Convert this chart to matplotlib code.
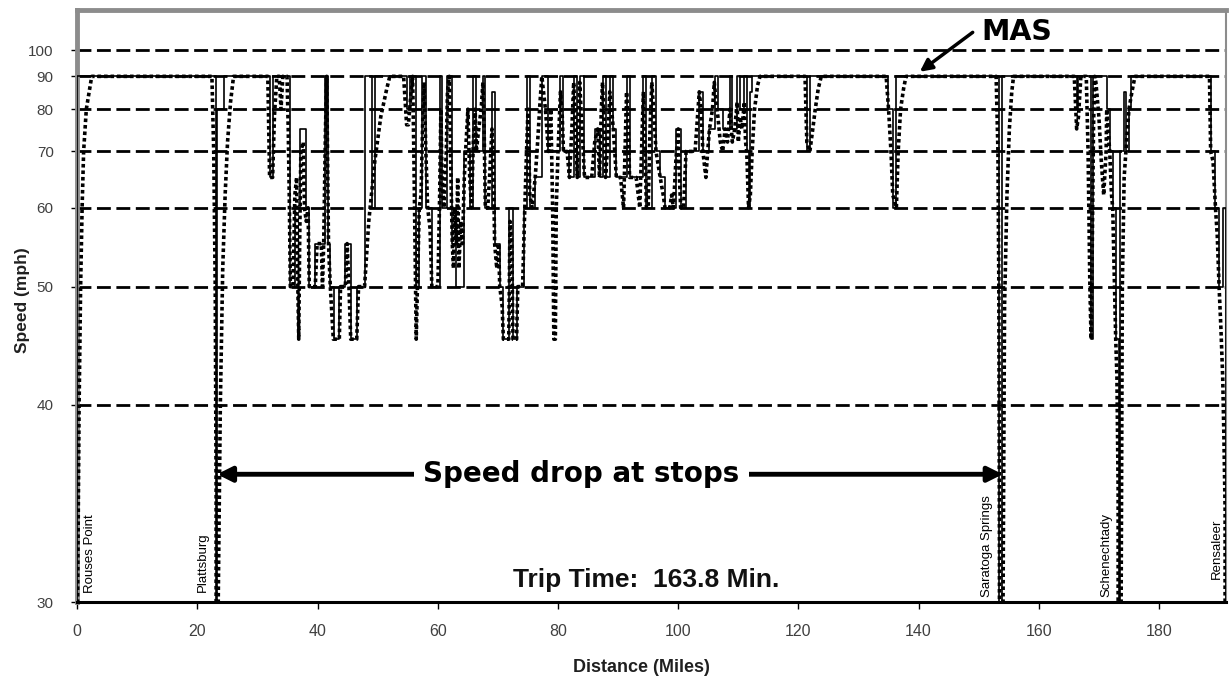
import matplotlib
matplotlib.use('Agg')
import matplotlib.pyplot as plt
import numpy as np

plt.rcParams['font.family'] = ['Liberation Sans', 'DejaVu Sans']

# solid trace: speed (mph) holding from each milepost until the next one
mas_miles = [0.00, 0.02, 23.15, 23.30, 24.40, 32.00, 32.55, 35.40, 36.20, 37.05,
             38.00, 38.60, 39.60, 41.20, 41.80, 42.10, 42.70, 43.60, 44.60, 45.50,
             46.50, 47.80, 49.00, 49.60, 54.90, 55.30, 56.30, 56.80, 57.40, 58.00,
             59.00, 60.30, 60.70, 61.60, 62.40, 63.00, 64.40, 65.30, 65.90, 66.40,
             67.50, 67.90, 69.00, 69.45, 70.30, 70.90, 71.90, 72.50, 73.10, 74.40,
             74.90, 75.30, 76.20, 77.30, 78.40, 80.40, 80.90, 81.90, 82.60, 83.20,
             83.60, 84.40, 86.10, 86.90, 87.40, 87.90, 88.60, 89.20, 89.70, 91.40,
             91.90, 94.20, 94.70, 95.60, 96.30, 97.00, 97.80, 99.60, 100.40, 101.30,
             103.50, 104.10, 105.20, 106.20, 106.60, 107.40, 108.60, 109.00, 109.80, 110.30,
             111.00, 111.40, 111.70, 112.00, 112.30, 121.40, 121.90, 134.90, 135.70, 136.30,
             153.45, 153.90, 166.30, 166.60, 168.75, 169.00, 171.30, 171.80, 172.30, 172.80,
             173.35, 173.55, 174.20, 174.50, 175.00, 175.40, 188.60, 189.40, 190.00, 190.70,
             191.10, 191.20]
mas_speed = [0, 90, 0, 80, 90, 65, 90, 50, 60, 75,
             60, 50, 55, 90, 55, 50, 45, 50, 55, 45,
             50, 90, 60, 90, 80, 90, 50, 60, 90, 60,
             50, 90, 60, 90, 55, 50, 70, 60, 90, 70,
             90, 60, 85, 55, 50, 45, 60, 45, 50, 60,
             90, 60, 65, 90, 70, 90, 70, 65, 90, 65,
             90, 65, 75, 65, 90, 65, 90, 75, 65, 90,
             65, 90, 60, 90, 70, 65, 60, 75, 60, 70,
             85, 70, 75, 90, 80, 75, 90, 75, 90, 80,
             90, 70, 60, 85, 90, 70, 90, 80, 60, 90,
             0, 90, 80, 90, 45, 90, 80, 70, 60, 45,
             0, 70, 85, 70, 80, 90, 70, 60, 50, 60,
             0, 0]

# dotted trace: simulated train speed
run_miles = [0.00, 0.05, 0.30, 0.55, 0.80, 1.05, 1.50, 2.40, 22.40, 22.70,
             22.95, 23.10, 23.20, 23.35, 23.45, 23.80, 24.20, 24.60, 25.00, 25.50,
             26.00, 31.70, 32.00, 32.50, 32.80, 33.20, 33.60, 33.90, 34.20, 34.90,
             35.10, 35.30, 35.45, 35.90, 36.20, 36.50, 36.70, 36.85, 37.00, 37.20,
             37.60, 37.80, 38.10, 38.40, 38.60, 39.60, 39.90, 40.60, 40.80, 41.00,
             41.30, 41.50, 41.60, 41.80, 42.10, 42.60, 43.60, 43.80, 44.60, 44.90,
             45.20, 45.50, 46.50, 46.80, 47.80, 48.50, 49.50, 50.50, 51.50, 52.00,
             54.30, 54.80, 55.10, 55.50, 55.80, 56.00, 56.20, 56.40, 56.60, 56.90,
             57.20, 57.50, 57.70, 58.00, 58.30, 58.70, 59.00, 60.00, 60.30, 60.50,
             60.70, 61.00, 61.40, 61.60, 61.90, 62.10, 62.40, 62.60, 62.80, 63.10,
             63.30, 63.50, 63.80, 64.10, 64.40, 64.70, 65.00, 65.30, 65.60, 65.90,
             66.20, 66.40, 66.80, 67.20, 67.50, 67.70, 67.90, 68.30, 68.60, 69.00,
             69.20, 69.45, 69.80, 70.10, 70.30, 70.70, 70.90, 71.80, 72.00, 72.30,
             72.50, 73.10, 73.30, 74.10, 74.40, 74.70, 75.00, 75.30, 75.70, 76.20,
             76.60, 77.00, 77.30, 77.90, 78.40, 78.80, 79.10, 79.30, 79.55, 79.70,
             80.00, 80.40, 80.70, 80.90, 81.50, 81.90, 82.30, 82.60, 82.90, 83.20,
             83.40, 83.60, 84.00, 84.40, 85.60, 86.10, 86.60, 86.90, 87.20, 87.40,
             87.70, 87.90, 88.30, 88.60, 88.90, 89.20, 89.70, 90.40, 90.90, 91.10,
             91.40, 91.70, 91.90, 93.00, 93.60, 93.90, 94.20, 94.50, 94.70, 95.00,
             95.30, 95.60, 95.90, 96.30, 97.00, 97.50, 97.80, 98.60, 98.90, 99.20,
             99.60, 100.00, 100.20, 100.40, 100.90, 101.10, 101.30, 102.80, 103.20, 103.50,
             103.80, 104.10, 104.60, 104.90, 105.20, 105.70, 106.00, 106.30, 106.60, 107.00,
             107.40, 107.80, 108.20, 108.60, 109.00, 109.40, 109.80, 110.00, 110.30, 110.60,
             111.00, 111.20, 111.40, 111.70, 112.00, 112.30, 112.70, 113.20, 113.60, 121.10,
             121.40, 121.90, 122.30, 122.80, 123.30, 123.80, 134.60, 135.00, 135.40, 135.70,
             136.30, 136.60, 137.00, 137.50, 137.90, 152.90, 153.20, 153.35, 153.45, 153.55,
             153.95, 154.05, 154.30, 154.70, 155.10, 155.50, 155.80, 165.90, 166.30, 166.60,
             167.00, 167.90, 168.20, 168.50, 168.70, 168.90, 169.10, 169.30, 169.50, 170.00,
             170.40, 170.80, 171.20, 171.30, 171.80, 172.10, 172.30, 172.60, 172.80, 173.00,
             173.20, 173.35, 173.60, 173.70, 173.90, 174.20, 174.60, 175.00, 175.50, 176.00,
             188.40, 188.60, 189.00, 189.40, 189.70, 190.00, 190.30, 190.60, 190.80, 191.00,
             191.10]
run_speed = [0, 30, 40, 50, 60, 70, 80, 90, 90, 70,
             50, 35, 0, 0, 30, 40, 52, 62, 72, 82,
             90, 90, 65, 65, 78, 90, 90, 80, 90, 90,
             75, 60, 50, 50, 62, 65, 50, 45, 55, 70,
             72, 60, 58, 60, 50, 50, 55, 55, 50, 55,
             75, 90, 75, 55, 50, 45, 45, 50, 50, 55,
             50, 45, 45, 50, 50, 58, 68, 78, 86, 90,
             90, 76, 76, 84, 90, 70, 55, 45, 50, 60,
             62, 78, 88, 70, 60, 57, 50, 50, 62, 80,
             65, 60, 70, 85, 90, 70, 55, 52, 60, 55,
             65, 52, 58, 55, 65, 72, 80, 65, 60, 72,
             80, 70, 75, 80, 88, 75, 60, 60, 65, 75,
             70, 55, 52, 55, 50, 48, 45, 45, 58, 55,
             45, 45, 50, 50, 58, 68, 80, 62, 60, 65,
             72, 82, 90, 80, 70, 80, 60, 45, 45, 60,
             70, 85, 78, 70, 70, 65, 75, 88, 75, 65,
             78, 88, 75, 65, 65, 72, 75, 65, 80, 88,
             75, 65, 72, 85, 80, 75, 65, 65, 60, 68,
             85, 75, 65, 65, 60, 70, 85, 70, 60, 60,
             75, 88, 80, 70, 65, 62, 60, 60, 62, 60,
             68, 75, 65, 60, 60, 65, 70, 70, 78, 85,
             80, 70, 65, 70, 75, 80, 88, 82, 78, 72,
             70, 75, 72, 80, 72, 75, 82, 72, 78, 75,
             82, 72, 70, 60, 62, 70, 80, 87, 90, 90,
             72, 70, 74, 80, 86, 90, 90, 80, 70, 62,
             60, 70, 80, 86, 90, 90, 70, 50, 32, 0,
             0, 30, 48, 62, 75, 85, 90, 90, 75, 78,
             90, 90, 70, 50, 45, 55, 75, 90, 88, 78,
             68, 62, 70, 80, 70, 62, 60, 50, 45, 42,
             35, 0, 0, 30, 50, 65, 72, 80, 85, 90,
             90, 70, 68, 60, 56, 50, 46, 42, 38, 34,
             0]

speed_ticks = [30, 40, 50, 60, 70, 80, 90, 100]
dist_ticks = [0, 20, 40, 60, 80, 100, 120, 140, 160, 180]

stations = ['Rouses Point', 'Plattsburg', 'Saratoga Springs', 'Schenechtady', 'Rensaleer']


def fwd(v):
    v = np.asarray(v, dtype=float)
    return -1.0 / np.clip(v, 1.0, None)


def inv(u):
    u = np.asarray(u, dtype=float)
    with np.errstate(divide='ignore'):
        return -1.0 / np.clip(u, None, -1e-6)


fig = plt.figure(figsize=(12.29, 6.8), dpi=100)
ax = fig.add_axes([0.0629, 0.1147, 0.9349, 0.8706])
# speed axis runs on a 1/v (pace) scale
ax.set_yscale('function', functions=(fwd, inv))

ax.set_xlim(0, 191.2)
ax.set_ylim(30, 120.4)

# dashed speed grid
for s in speed_ticks:
    ax.axhline(s, color='black', lw=2.0, linestyle=(0, (5, 2)), zorder=1)

ax.plot(run_miles, run_speed, color='black', lw=2.6, linestyle=(0, (1, 0.8)), zorder=3)
ax.plot(mas_miles, mas_speed, color='black', lw=1.2, drawstyle='steps-post', zorder=4)

ax.set_yticks(speed_ticks)
ax.set_yticklabels([str(s) for s in speed_ticks])
ax.set_xticks(dist_ticks)
ax.minorticks_off()
ax.tick_params(axis='y', length=4, width=1, pad=13, labelsize=11, labelcolor='#404040')
ax.tick_params(axis='x', length=5, width=1, pad=11, labelsize=11.5, labelcolor='#404040')

for side in ['top', 'left']:
    ax.spines[side].set_color('#8c8c8c')
    ax.spines[side].set_linewidth(3.5)
ax.spines['right'].set_color('#8c8c8c')
ax.spines['right'].set_linewidth(1.5)
ax.spines['bottom'].set_color('black')
ax.spines['bottom'].set_linewidth(2.2)

ax.set_ylabel('Speed (mph)', fontsize=12.5, fontweight='bold', color='#202020')
ax.yaxis.set_label_coords(-0.041, 0.51)
ax.set_xlabel('Distance (Miles)', fontsize=13, fontweight='bold', color='#202020')
ax.xaxis.set_label_coords(0.4907, -0.097)

# station names
label_x = [2.1, 20.9, 151.4, 171.3, 189.6]
label_y = [30.35, 30.4, 30.2, 30.2, 30.9]
for name, lx, ly in zip(stations, label_x, label_y):
    ax.text(lx, ly, name, rotation=90, ha='center', va='bottom', fontsize=9.5, zorder=5)

ax.text(94.6, 30.58, 'Trip Time:  163.8 Min.', ha='center', va='baseline',
        fontsize=19, fontweight='bold', color='#111111', zorder=5)

# arrows / callouts
ax.annotate('', xy=(23.25, 35.8), xytext=(154.0, 35.8),
            arrowprops=dict(arrowstyle='<|-|>', lw=3.5, color='black',
                            mutation_scale=22, shrinkA=0, shrinkB=0), zorder=5)
ax.text(83.9, 35.8, 'Speed drop at stops', ha='center', va='center',
        fontsize=20, fontweight='bold', family='DejaVu Sans', zorder=6,
        bbox=dict(boxstyle='square,pad=0.35', facecolor='white', edgecolor='none'))

ax.annotate('', xy=(140.2, 91.6), xytext=(149.0, 108.1),
            arrowprops=dict(arrowstyle='-|>', lw=2.5, color='black',
                            mutation_scale=18, shrinkA=0, shrinkB=0), zorder=5)
ax.text(156.4, 108.2, 'MAS', ha='center', va='center', fontsize=20.5,
        fontweight='bold', family='DejaVu Sans', zorder=6)

fig.savefig('out.png', dpi=100)
